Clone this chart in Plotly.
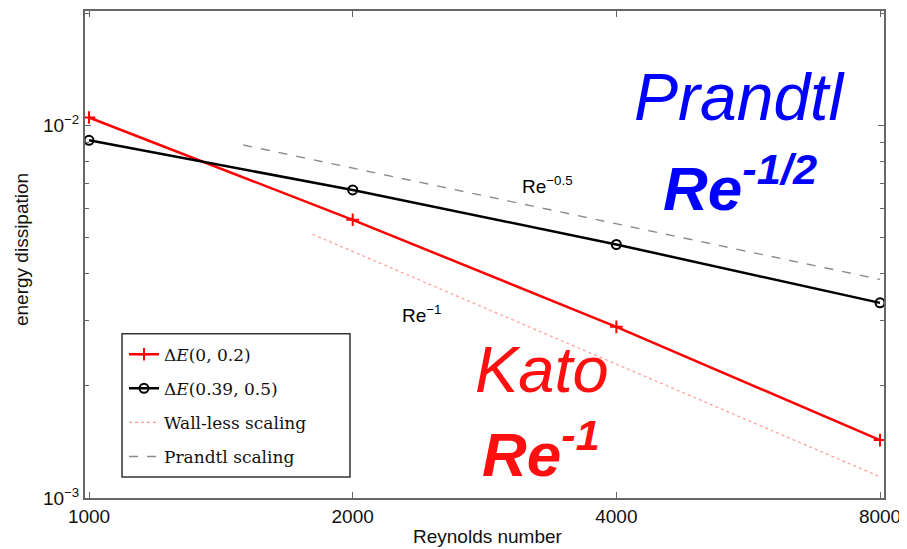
import math
import plotly.graph_objects as go

# ---- data ----
reynolds = [1000, 2000, 4000, 8000]
dE_0_02 = [0.0105, 0.00558, 0.00288, 0.00143]
dE_039_05 = [0.00912, 0.00671, 0.00479, 0.00334]
wall_re = [1800, 8000]
wall_val = [0.0051, 0.00114]
prandtl_re = [1500, 8000]
prandtl_val = [0.00886, 0.00386]

x_ticks = [1000, 2000, 4000, 8000]
x_ticktext = ["1000", "2000", "4000", "8000"]
y_ticks = [0.001, 0.01]
y_ticktext = ["10<sup>\u22123</sup>", "10<sup>\u22122</sup>"]
y_minor = [0.002, 0.003, 0.004, 0.005, 0.006, 0.007, 0.008, 0.009, 0.02]

SANS = "Liberation Sans"
SERIF = "DejaVu Serif"

fig = go.Figure()
fig.add_trace(go.Scatter(
    x=reynolds, y=dE_0_02, mode="lines+markers",
    name="\u0394<i>E</i>(0, 0.2)", legendgroup="a",
    line=dict(color="#ff0000", width=2.5),
    marker=dict(symbol="cross-thin", size=9, color="#ff0000",
                line=dict(color="#ff0000", width=2)),
))
fig.add_trace(go.Scatter(
    x=reynolds, y=dE_039_05, mode="lines+markers",
    name="\u0394<i>E</i>(0.39, 0.5)", legendgroup="b",
    line=dict(color="#000000", width=2.5),
    marker=dict(symbol="circle-open", size=9, color="#000000",
                line=dict(color="#000000", width=2)),
))
fig.add_trace(go.Scatter(
    x=wall_re, y=wall_val, mode="lines",
    name="Wall-less scaling", legendgroup="c",
    line=dict(color="#ff9a9a", width=1.2, dash="dot"),
))
fig.add_trace(go.Scatter(
    x=prandtl_re, y=prandtl_val, mode="lines",
    name="Prandtl scaling", legendgroup="d",
    line=dict(color="#8c8c8c", width=1.4, dash="dash"),
))

# page body has an 8px margin: figure is offset by (8, 8) in the window
OFF = 8
W, H = 907 - OFF, 549 - OFF
# plot area in window pixels: left 85, right 884, top 9, bottom 498
L, R, T, B = 85 - OFF, 907 - 884, 9 - OFF, 549 - 498
pw = W - L - R
ph = H - T - B


def px(xp):
    # window x pixel -> paper
    return (xp - OFF - L) / pw


def py(yp):
    # window y pixel -> paper
    return (H - B - (yp - OFF)) / ph


ann = []
ann.append(dict(text="Re<sup>\u22120.5</sup>", x=px(547), y=py(184),
                font=dict(family=SANS, size=19, color="black")))
ann.append(dict(text="Re<sup>\u22121</sup>", x=px(421), y=py(313),
                font=dict(family=SANS, size=19, color="black")))
ann.append(dict(text="<i>Prandtl</i>", x=px(739), y=py(95),
                font=dict(family=SANS, size=66, color="#0000ff")))
ann.append(dict(text="<b><i>Re<sup>-1/2</sup></i></b>", x=px(740), y=py(183),
                font=dict(family=SANS, size=62, color="#0000ff")))
ann.append(dict(text="<i>Kato</i>", x=px(542), y=py(369),
                font=dict(family=SANS, size=65, color="#ff1010")))
ann.append(dict(text="<b><i>Re<sup>-1</sup></i></b>", x=px(541), y=py(450),
                font=dict(family=SANS, size=62, color="#ff1010")))
ann.append(dict(text="Reynolds number", x=px(488), y=py(537),
                font=dict(family=SANS, size=19, color="#111111")))
ann.append(dict(text="energy dissipation", x=px(21), y=py(249), textangle=-90,
                font=dict(family=SANS, size=19, color="#111111")))
for a in ann:
    a.update(xref="paper", yref="paper", showarrow=False,
             xanchor="center", yanchor="middle")

# legend frame (wider than plotly's auto-sized box, like the reference)
legend_frame = dict(
    type="rect", xref="paper", yref="paper",
    x0=px(122), x1=px(350), y0=py(477), y1=py(333),
    line=dict(color="#333333", width=1.5), fillcolor="white", layer="above",
)

fig.update_layout(
    width=W, height=H,
    margin=dict(l=L, r=R, t=T, b=B),
    paper_bgcolor="white", plot_bgcolor="white",
    showlegend=True,
    legend=dict(
        x=px(124), y=py(336), xanchor="left", yanchor="top",
        bgcolor="rgba(0,0,0,0)", borderwidth=0,
        font=dict(family=SERIF, size=17, color="#111111"),
        tracegroupgap=9, traceorder="grouped",
    ),
    shapes=[legend_frame],
    annotations=ann,
)
fig.update_xaxes(
    type="log",
    range=[math.log10(989.5), math.log10(8084)],
    tickvals=x_ticks, ticktext=x_ticktext,
    ticks="inside", ticklen=6, tickwidth=1, tickcolor="#666666",
    showline=True, linecolor="#666666", linewidth=2, mirror="allticks",
    showgrid=False, zeroline=False,
    tickfont=dict(family=SANS, size=19, color="#111111"),
)
fig.update_yaxes(
    type="log",
    range=[-3, -1.693],
    tickvals=y_ticks, ticktext=y_ticktext,
    ticks="inside", ticklen=6, tickwidth=1, tickcolor="#666666",
    minor=dict(tickvals=y_minor, ticks="inside", ticklen=4,
               tickcolor="#666666", showgrid=False),
    showline=True, linecolor="#666666", linewidth=2, mirror="allticks",
    showgrid=False, zeroline=False,
    tickfont=dict(family=SANS, size=19, color="#111111"),
)

fig.write_html("out.html")
